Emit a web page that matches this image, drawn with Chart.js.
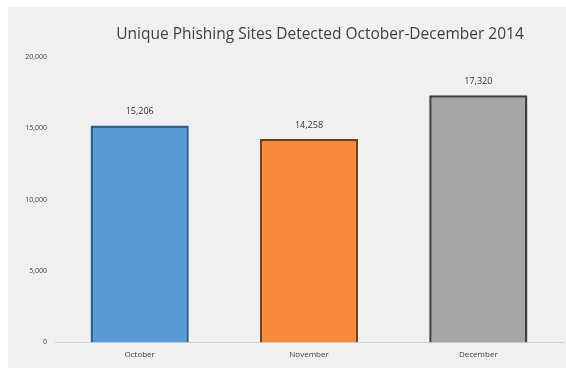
<!DOCTYPE html>
<html>
<head>
<meta charset="utf-8">
<script src="https://cdn.jsdelivr.net/npm/chart.js@4/dist/chart.umd.min.js"></script>
<style>
  html, body { margin: 0; padding: 0; background: #ffffff; }
  #wrap { width: 566px; height: 368px; position: relative; }
</style>
</head>
<body>
<div id="wrap"><canvas id="c" width="566" height="368"></canvas></div>
<script>
// Monthly counts of unique phishing sites, Q4 2014
const months = ['October', 'November', 'December'];
const siteCounts = [15206, 14258, 17320];
const yTicks = [0, 5000, 10000, 15000, 20000];
const barFills = ['#5b9bd5', '#f68a3a', '#a6a6a6'];
const barEdges = ['#2f5f8f', '#7a3d10', '#3f3f3f'];
const titleText = 'Unique Phishing Sites Detected October-December 2014';

const fmt = v => v.toLocaleString('en-US');

// light panel behind the chart
const panelBg = {
  id: 'panelBg',
  beforeDraw(chart) {
    const ctx = chart.ctx;
    ctx.save();
    ctx.fillStyle = '#f0f0f0';
    ctx.fillRect(8, 7, chart.width - 8, chart.height - 7);
    ctx.restore();
  }
};

// title and value labels
const textLayer = {
  id: 'textLayer',
  afterDatasetsDraw(chart) {
    const ctx = chart.ctx;
    ctx.save();
    ctx.fillStyle = '#404040';
    ctx.textAlign = 'center';
    ctx.textBaseline = 'middle';
    ctx.font = '15.5px "Open Sans", sans-serif';
    ctx.fillText(titleText, 320, 35);

    ctx.font = '9px "Open Sans", sans-serif';
    ctx.fillStyle = '#333333';
    const meta = chart.getDatasetMeta(0);
    meta.data.forEach((bar, i) => {
      ctx.fillText(fmt(siteCounts[i]), bar.x, bar.y - 14);
    });
    ctx.restore();
  }
};

new Chart(document.getElementById('c'), {
  type: 'bar',
  data: {
    labels: months,
    datasets: [{
      data: siteCounts,
      backgroundColor: barFills,
      borderColor: barEdges,
      borderWidth: 2.5,
      categoryPercentage: 1.0,
      barPercentage: 0.58
    }]
  },
  options: {
    responsive: false,
    animation: false,
    devicePixelRatio: 1,
    layout: { padding: { left: 8, right: 3, top: 57, bottom: 0 } },
    plugins: {
      legend: { display: false },
      title: { display: false },
      tooltip: { enabled: false }
    },
    scales: {
      x: {
        grid: { display: false, drawTicks: false },
        border: { display: true, color: '#d0d0d0', width: 1 },
        ticks: {
          color: '#404040',
          font: { family: '"Open Sans", sans-serif', size: 8 },
          padding: 8
        }
      },
      y: {
        min: 0,
        max: 20000,
        afterFit(scale) { scale.width = 47; },
        afterBuildTicks(scale) { scale.ticks = yTicks.map(v => ({ value: v })); },
        grid: { display: false, drawTicks: false },
        border: { display: false },
        ticks: {
          color: '#404040',
          font: { family: '"Open Sans", sans-serif', size: 7 },
          padding: 8,
          callback: v => fmt(v)
        }
      }
    }
  },
  plugins: [panelBg, textLayer]
});
</script>
</body>
</html>
